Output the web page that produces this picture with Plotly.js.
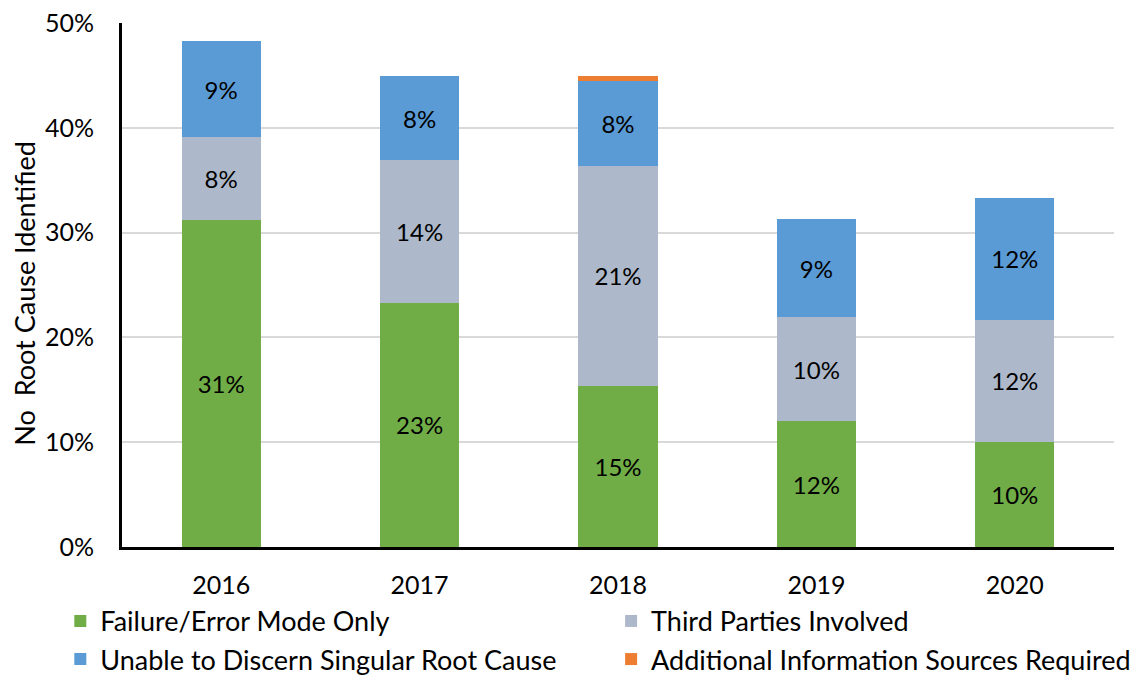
<!DOCTYPE html>
<html>
<head>
<meta charset="utf-8">
<script src="https://cdn.plot.ly/plotly-3.0.1.min.js"></script>
<style>html,body{margin:0;padding:0;background:#fff;}#chart{width:1138px;height:676px;}</style>
</head>
<body>
<div id="chart"></div>
<script>
const years = ['2016', '2017', '2018', '2019', '2020'];
const failureOnly = [31.2, 23.3, 15.4, 12.0, 10.0];
const thirdParties = [7.9, 13.6, 21.0, 9.9, 11.7];
const unableToDiscern = [9.2, 8.0, 8.1, 9.4, 11.6];
const additionalInfo = [0, 0, 0.45, 0, 0];
const seriesNames = ['Failure/Error Mode Only', 'Third Parties Involved', 'Unable to Discern Singular Root Cause', 'Additional Information Sources Required'];
const seriesColors = ['#70AD47', '#ADB9CA', '#5B9BD5', '#ED7D31'];
const yTickVals = [0, 10, 20, 30, 40, 50];
const yTickText = ['0%', '10%', '20%', '30%', '40%', '50%'];
const yTitle = 'No  Root Cause Identified';

const FONT = 'Lato, "Open Sans", sans-serif';
const series = [failureOnly, thirdParties, unableToDiscern, additionalInfo];
const legendFor = ['legend', 'legend2', 'legend', 'legend2'];
const traces = series.map((vals, i) => ({
  type: 'bar',
  name: seriesNames[i],
  x: years,
  y: vals,
  legend: legendFor[i],
  marker: {color: seriesColors[i], line: {width: 0}},
  text: i < 3 ? vals.map(v => Math.round(v) + '%') : vals.map(() => ''),
  textposition: i < 3 ? 'inside' : 'none',
  insidetextanchor: 'middle',
  textangle: 0,
  textfont: {family: FONT, size: 24, color: '#000'},
  hoverinfo: 'x+y+name'
}));

const legendCommon = {
  orientation: 'v',
  xref: 'container', yref: 'container',
  xanchor: 'left', yanchor: 'top',
  font: {family: FONT, size: 27, color: '#000'},
  itemwidth: 30,
  tracegroupgap: 0,
  traceorder: 'normal',
  bgcolor: 'rgba(0,0,0,0)'
};

const layout = {
  width: 1138, height: 676,
  margin: {l: 122, r: 24, t: 23, b: 129, autoexpand: false},
  barmode: 'stack',
  bargap: 0.6,
  paper_bgcolor: '#fff', plot_bgcolor: '#fff',
  font: {family: FONT, size: 25, color: '#000'},
  xaxis: {
    type: 'category',
    showline: true, linecolor: '#000', linewidth: 3,
    showgrid: false, zeroline: false,
    ticks: 'outside', ticklen: 14, tickcolor: 'rgba(0,0,0,0)',
    tickfont: {family: FONT, size: 25, color: '#000'}
  },
  yaxis: {
    range: [0, 50],
    tickvals: yTickVals, ticktext: yTickText,
    showline: true, linecolor: '#000', linewidth: 3,
    showgrid: true, gridcolor: '#D9D9D9', gridwidth: 2,
    zeroline: false,
    ticks: 'outside', ticklen: 20, tickcolor: 'rgba(0,0,0,0)',
    tickfont: {family: FONT, size: 25, color: '#000'}
  },
  annotations: [{
    text: yTitle,
    xref: 'paper', yref: 'paper',
    x: -0.098, y: 0.485,
    xanchor: 'center', yanchor: 'middle',
    textangle: -90,
    showarrow: false,
    font: {family: FONT, size: 27, color: '#000'}
  }],
  legend: Object.assign({}, legendCommon, {x: 0.053, y: 0.117}),
  legend2: Object.assign({}, legendCommon, {x: 0.537, y: 0.117}),
  showlegend: true
};

Plotly.newPlot('chart', traces, layout, {displayModeBar: false, staticPlot: true});
</script>
</body>
</html>
